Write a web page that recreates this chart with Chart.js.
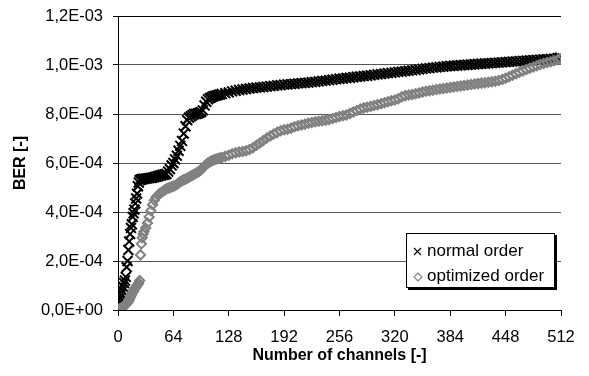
<!DOCTYPE html>
<html>
<head>
<meta charset="utf-8">
<script src="https://cdn.jsdelivr.net/npm/chart.js@4.4.1/dist/chart.umd.min.js"></script>
<style>
  html, body { margin: 0; padding: 0; background: #fff; }
  #wrap { position: relative; width: 589px; height: 376px; }
  canvas { position: absolute; left: 0; top: 0; }
  #legend {
    position: absolute; left: 406px; top: 233px; width: 147px; height: 53px;
    border: 1px solid #000; background: #fff; box-shadow: 2px 2px 0 #000;
    font-family: 'Liberation Sans', Arial, sans-serif; font-size: 17px; color: #000;
  }
  #legend .row { position: absolute; left: 0; height: 20px; line-height: 20px; white-space: nowrap; }
  #legend svg { position: absolute; left: 6px; top: 6px; }
  #legend span { position: absolute; left: 20px; top: 0; }
</style>
</head>
<body>
<div id="wrap">
  <canvas id="c" width="589" height="376"></canvas>
  <div id="legend">
    <div class="row" style="top:7px"><svg width="9" height="9"><path d="M1 1 L8 8 M8 1 L1 8" stroke="#000" stroke-width="1.1" fill="none"/></svg><span>normal order</span></div>
    <div class="row" style="top:32px"><svg width="10" height="10"><path d="M5 1 L9 5 L5 9 L1 5 Z" stroke="#808080" stroke-width="1.1" fill="none"/></svg><span>optimized order</span></div>
  </div>
</div>
<script>
// Channel indices at which the curves were read
const channels = [
  0,1,2,3,4,5,6,7,8,9,10,11,12,13,14,15,16,17,18,19,20,21,22,23,24,25,26,27,28,29,30,
  32,34,36,38,40,42,44,46,48,50,52,54,56,58,60,62,64,66,68,70,72,74,76,78,80,82,84,86,88,90,92,94,96,98,100,102,104,106,108,110,112,114,116,118,120,
  124,128,132,136,140,144,148,152,156,160,164,168,172,176,180,184,188,192,196,200,
  204,208,212,216,220,224,228,232,236,240,244,248,252,256,260,264,268,272,276,280,
  284,288,292,296,300,304,308,312,316,320,324,328,332,336,340,344,348,352,356,360,
  364,368,372,376,380,384,388,392,396,400,404,408,412,416,420,424,428,432,436,440,
  444,448,452,456,460,464,468,472,476,480,484,488,492,496,500,504,508,511
];

// BER values in units of 1e-4
const normalOrderE4 = [
  0,0.2,0.35,0.5,0.65,0.8,0.95,1.1,1.2,1.35,1.75,2.0,2.45,2.8,3.1,3.35,3.5,3.8,3.95,4.1,4.35,4.55,4.75,5.05,5.2,5.3,5.32,5.33,5.34,5.35,5.35,
  5.36,5.37,5.38,5.39,5.40,5.42,5.44,5.46,5.48,5.5,5.52,5.53,5.55,5.65,5.75,5.9,6.0,6.15,6.3,6.5,6.7,6.9,7.2,7.5,7.75,7.85,7.9,7.95,8.0,8.0,8.02,8.05,8.08,8.15,8.35,8.5,8.6,8.65,8.68,8.72,8.74,8.76,8.78,8.8,8.82,
  8.85,8.88,8.92,8.95,8.98,9.0,9.02,9.04,9.06,9.08,9.09,9.1,9.12,9.14,9.15,9.17,9.18,9.2,9.21,9.22,
  9.23,9.25,9.26,9.27,9.28,9.3,9.31,9.33,9.35,9.36,9.38,9.4,9.42,9.44,9.45,9.47,9.48,9.5,9.52,9.53,
  9.55,9.56,9.58,9.6,9.62,9.63,9.65,9.67,9.68,9.7,9.72,9.73,9.75,9.77,9.78,9.8,9.82,9.84,9.86,9.87,
  9.89,9.9,9.92,9.93,9.95,9.96,9.97,9.98,9.99,10.0,10.01,10.02,10.03,10.04,10.05,10.06,10.07,10.08,10.09,10.1,
  10.11,10.12,10.13,10.14,10.15,10.16,10.17,10.18,10.19,10.2,10.21,10.22,10.23,10.24,10.25,10.26,10.28,10.3
];

const optimizedOrderE4 = [
  0,0.02,0.04,0.06,0.08,0.1,0.12,0.15,0.18,0.22,0.26,0.3,0.35,0.42,0.5,0.58,0.65,0.72,0.78,0.85,0.9,0.95,1.0,1.05,1.1,1.2,2.25,2.7,2.95,3.1,3.2,
  3.35,3.55,3.8,4.05,4.3,4.48,4.6,4.68,4.75,4.8,4.85,4.9,4.95,4.97,5.0,5.02,5.05,5.08,5.12,5.18,5.24,5.28,5.32,5.35,5.38,5.42,5.46,5.5,5.54,5.58,5.62,5.66,5.72,5.8,5.88,5.95,6.0,6.04,6.08,6.11,6.14,6.16,6.18,6.2,6.22,
  6.27,6.32,6.38,6.42,6.45,6.47,6.5,6.55,6.62,6.72,6.82,6.92,7.02,7.1,7.18,7.25,7.32,7.36,7.38,7.42,
  7.48,7.52,7.55,7.58,7.62,7.65,7.68,7.7,7.72,7.75,7.78,7.82,7.86,7.9,7.93,7.96,8.02,8.08,8.14,8.2,
  8.25,8.28,8.31,8.35,8.38,8.42,8.46,8.5,8.54,8.57,8.62,8.7,8.75,8.78,8.8,8.83,8.86,8.9,8.93,8.95,
  8.97,9.0,9.02,9.04,9.06,9.08,9.1,9.12,9.14,9.16,9.18,9.2,9.22,9.24,9.26,9.28,9.3,9.32,9.34,9.37,
  9.41,9.46,9.52,9.58,9.64,9.7,9.76,9.82,9.87,9.92,9.97,10.02,10.06,10.1,10.13,10.17,10.21,10.25
];

const xTickLabels = ['0','64','128','192','256','320','384','448','512'];
const yTickLabels = ['0,0E+00','2,0E-04','4,0E-04','6,0E-04','8,0E-04','1,0E-03','1,2E-03'];

const FONT = "'Liberation Sans', Arial, sans-serif";

const toPoints = (vals) => channels.map((c, i) => ({ x: c, y: vals[i] * 1e-4 }));

new Chart(document.getElementById('c'), {
  type: 'scatter',
  data: {
    datasets: [
      {
        label: 'optimized order',
        data: toPoints(optimizedOrderE4),
        pointStyle: 'rectRot',
        pointRadius: 4.6,
        pointBorderWidth: 2,
        borderColor: '#808080',
        backgroundColor: 'rgba(0,0,0,0)',
        showLine: false
      },
      {
        label: 'normal order',
        data: toPoints(normalOrderE4),
        pointStyle: 'crossRot',
        pointRadius: 7,
        pointBorderWidth: 2,
        borderColor: '#000',
        backgroundColor: '#000',
        showLine: false
      }
    ]
  },
  options: {
    responsive: false,
    animation: false,
    devicePixelRatio: 1,
    layout: { autoPadding: false, padding: { top: 16, right: 28, left: 0, bottom: 0 } },
    plugins: { legend: { display: false }, tooltip: { enabled: false } },
    scales: {
      x: {
        type: 'linear', min: 0, max: 512,
        ticks: {
          stepSize: 64, autoSkip: false, maxRotation: 0, padding: 12,
          color: '#000', font: { family: FONT, size: 16.5 },
          callback: (v, i) => xTickLabels[i]
        },
        grid: { drawOnChartArea: false, drawTicks: true, tickLength: 6, tickColor: '#000' },
        border: { color: '#000', width: 1 },
        title: {
          display: true, text: 'Number of channels [-]', color: '#000',
          font: { family: FONT, size: 16, weight: 'bold' },
          padding: { top: 0, bottom: 11 }
        },
        afterFit: (s) => { s.height = 66; }
      },
      y: {
        min: 0, max: 1.2e-3,
        ticks: {
          stepSize: 2e-4, padding: 10,
          color: '#000', font: { family: FONT, size: 16.5, lineHeight: 0.7 },
          callback: (v, i) => yTickLabels[i]
        },
        grid: {
          color: (ctx) => (ctx.index === yTickLabels.length - 1 ? '#000' : '#555'),
          tickColor: '#000', tickLength: 5, lineWidth: 1
        },
        border: { color: '#000', width: 1 },
        title: {
          display: true, text: 'BER [-]', color: '#000',
          font: { family: FONT, size: 16, weight: 'bold' },
          padding: { top: 11, bottom: 0 }
        },
        afterFit: (s) => { s.width = 118; }
      }
    }
  }
});
</script>
</body>
</html>
